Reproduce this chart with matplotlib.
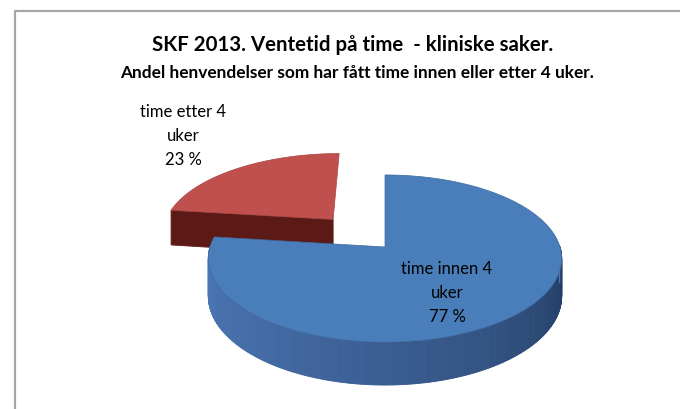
import numpy as np
import matplotlib
matplotlib.use("Agg")
import matplotlib.pyplot as plt
from matplotlib.patches import Polygon
from matplotlib.lines import Line2D

# ---- data ----
categories = ["time innen 4\nuker", "time etter 4\nuker"]
values = [77, 23]
title = "SKF 2013. Ventetid på time  - kliniske saker."
subtitle = "Andel henvendelser som har fått time innen eller etter 4 uker."

# ---- style / geometry ----
top_colors = ["#4A7EBB", "#C0504D"]
wall_colors = [((0.30, 0.47, 0.72), (0.13, 0.23, 0.38)), ((0.42, 0.12, 0.11), (0.36, 0.10, 0.09))]
explode = [0.0, 0.47]
cx, cy = 385.0, 247.0   # pie centre in figure pixels
R, RB = 175.0, 82.0     # horizontal radius, vertical radius
P = 0.138               # perspective strength
D = 37.0                # thickness

plt.rcParams['font.family'] = ['Lato', 'DejaVu Sans']
fig = plt.figure(figsize=(6.8, 4.09), dpi=100)
ax = fig.add_axes([0, 0, 1, 1])
ax.set_xlim(0, 680)
ax.set_ylim(409, 0)
ax.axis('off')

# frame of the chart area
ax.add_line(Line2D([14.5, 14.5, 680], [409, 10.5, 10.5], color="#A6A6A6", lw=1.6))


def proj(u, v, z=0.0):
    f = 1.0 / (1.0 + P * v)
    return cx + R * u * f, cy - RB * v * f + z * D * f


total = float(sum(values))
# first slice (blue) runs clockwise from 12 o'clock; second (red) fills the rest
blue_rng = (90.0 - values[0] / total * 360.0 + 360.0, 450.0)
red_rng = (90.0, 90.0 + values[1] / total * 360.0)
ranges = [blue_rng, red_rng]

# drawing order: red (back) first, then blue
for idx in [1, 0]:
    a0, a1 = ranges[idx]
    mid = np.radians((a0 + a1) / 2)
    ou, ov = explode[idx] * np.cos(mid), explode[idx] * np.sin(mid)
    th = np.radians(np.linspace(a0, a1, 400))
    us, vs = ou + np.cos(th), ov + np.sin(th)
    c_light, c_dark = wall_colors[idx]

    # outer wall: visible where it faces the viewer (sin < 0)
    n = len(th)
    for k in range(n - 1):
        if np.sin(th[k]) < 0.02 and np.sin(th[k + 1]) < 0.02:
            x1, y1 = proj(us[k], vs[k])
            x2, y2 = proj(us[k + 1], vs[k + 1])
            x3, y3 = proj(us[k + 1], vs[k + 1], 1)
            x4, y4 = proj(us[k], vs[k], 1)
            tt = ((np.degrees(th[k]) % 360) - 180) / 180.0
            tt = min(max(tt, 0), 1) ** 1.2
            col = tuple(c_light[j] * (1 - tt) + c_dark[j] * tt for j in range(3))
            ax.add_patch(Polygon([(x1, y1), (x2, y2), (x3, y3), (x4, y4)],
                                 closed=True, fc=col, ec=col, lw=0.6))

    # radial faces facing the viewer
    for a in (a0, a1):
        ar = np.radians(a)
        sign = -1 if a == a0 else 1
        nv = sign * np.cos(ar)
        if nv < -0.05:
            pts = [proj(ou, ov), proj(ou + np.cos(ar), ov + np.sin(ar)),
                   proj(ou + np.cos(ar), ov + np.sin(ar), 1), proj(ou, ov, 1)]
            ax.add_patch(Polygon(pts, closed=True, fc=c_dark, ec=c_dark, lw=0.6))

    # top face
    xy = [proj(ou, ov)] + [proj(u, v) for u, v in zip(us, vs)]
    ax.add_patch(Polygon(xy, closed=True, fc=top_colors[idx],
                         ec="#3F6A9E" if idx == 0 else "#A84542", lw=0.5))

# ---- text ----
pcts = [f"{round(v / total * 100)} %" for v in values]
ax.text(353, 45, title, ha='center', va='center', fontsize=14.7, fontweight='bold', color='black')
ax.text(357, 73, subtitle, ha='center', va='center', fontsize=12.4, fontweight='bold', color='black')
ax.text(447, 293, categories[0] + "\n" + pcts[0], ha='center', va='center',
        fontsize=12, linespacing=1.6, color='black')
ax.text(183, 136, categories[1] + "\n" + pcts[1], ha='center', va='center',
        fontsize=12, linespacing=1.6, color='black')

fig.savefig("out.png", dpi=100, facecolor='white')
